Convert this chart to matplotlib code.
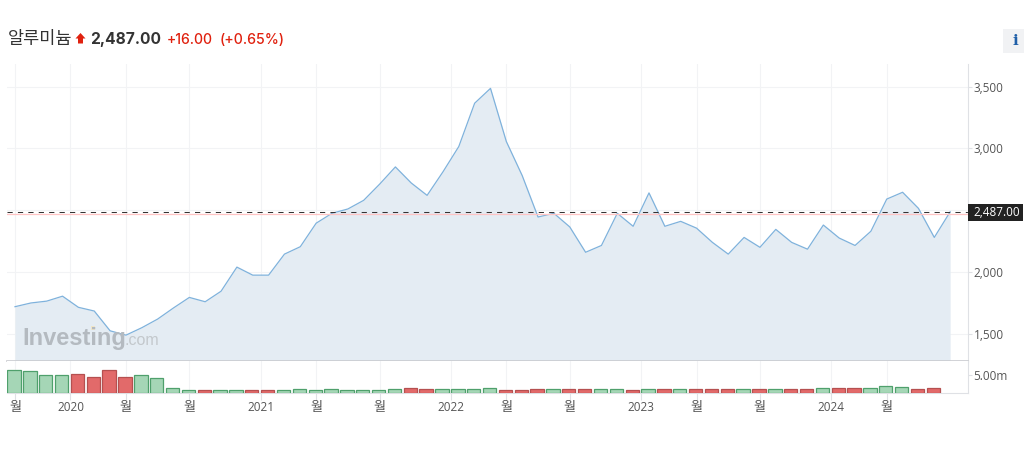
import matplotlib
matplotlib.use("Agg")
import matplotlib.pyplot as plt
from matplotlib.patches import Polygon, Rectangle

# 월별 종가
prices = [1720, 1750, 1765, 1805, 1715, 1685, 1525, 1490, 1550, 1620, 1710, 1795,
          1760, 1845, 2040, 1975, 1975, 2145, 2205, 2395, 2475, 2510, 2580, 2710,
          2850, 2720, 2620, 2810, 3015, 3365, 3485, 3055, 2780, 2445, 2475, 2365,
          2160, 2215, 2475, 2370, 2640, 2370, 2410, 2355, 2240, 2145, 2280, 2200,
          2345, 2240, 2185, 2380, 2275, 2215, 2330, 2590, 2645, 2515, 2280, 2487]

# 거래량 (백만)
volumes = [6.5, 6.2, 5.0, 5.0, 5.3, 4.7, 6.5, 4.7, 5.0, 4.4, 1.2, 0.6, 0.6, 0.6, 0.6,
           0.6, 0.6, 0.6, 0.9, 0.6, 0.9, 0.6, 0.6, 0.6, 0.9, 1.2, 0.9, 0.9, 0.9, 0.9,
           1.2, 0.6, 0.6, 0.9, 0.9, 0.9, 0.9, 0.9, 0.9, 0.6, 0.9, 0.9, 0.9, 0.9, 0.9,
           0.9, 0.9, 0.9, 0.9, 0.9, 0.9, 1.2, 1.2, 1.2, 1.2, 1.8, 1.5, 0.9, 1.2]
# r = 상승, g = 하락
vol_dirs = ["g", "g", "g", "g", "r", "r", "r", "r", "g", "g", "g", "g", "r", "g", "g",
            "r", "r", "g", "g", "g", "g", "g", "g", "g", "g", "r", "r", "g", "g", "g",
            "g", "r", "r", "r", "g", "r", "r", "g", "g", "r", "g", "r", "g", "r", "r",
            "r", "g", "r", "g", "r", "r", "g", "r", "r", "g", "g", "g", "r", "r"]

tick_pos = [0, 3.5, 7, 11, 15.5, 19, 23, 27.5, 31, 35, 39.5, 43, 47, 51.5, 55]
tick_labels = ["월", "2020", "월", "월", "2021", "월", "월", "2022", "월", "월",
               "2023", "월", "월", "2024", "월"]
price_ticks = [1500, 2000, 2500, 3000, 3500]
# 2,500 라벨은 현재가 박스에 가려져 있음
price_tick_labels = ["1,500", "2,000", "", "3,000", "3,500"]
last_price = 2487

W, H = 1024, 450
plt.rcParams["font.family"] = ["Open Sans", "Noto Sans CJK KR", "DejaVu Sans"]
fig = plt.figure(figsize=(W / 100, H / 100), dpi=100)


def px_axes(left, top, right, bottom):
    return fig.add_axes([left / W, 1 - bottom / H, (right - left) / W, (bottom - top) / H])


ax = px_axes(7, 64, 968, 360.5)
vax = px_axes(7, 360.5, 968, 392.5)

xs = list(range(len(prices)))
xlim = ((7 - 15) / 15.85, (968 - 15) / 15.85)
ax.set_xlim(xlim)
vax.set_xlim(xlim)
ax.set_ylim(1285, 3682)
vax.set_ylim(0, 9.4)

ax.fill_between(xs, prices, 1285, color="#e4ecf3", lw=0)
ax.plot(xs, prices, color="#7fb2dc", lw=0.9)

# 현재가 라인
ax.axhline(last_price - 19, color="#ffc4c4", lw=0.9)
ax.axhline(last_price, color="#333333", lw=0.75, dashes=(5, 5))

for a in (ax, vax):
    a.grid(True, axis="x", color="#f2f3f5", lw=0.8)
    a.set_axisbelow(True)
    a.set_xticks(tick_pos)
    for s in ("top", "left"):
        a.spines[s].set_visible(False)
ax.grid(True, axis="y", color="#f2f3f5", lw=0.8)

ax.set_yticks(price_ticks)
ax.set_yticklabels(price_tick_labels, fontsize=8.5, color="#555555")
ax.yaxis.tick_right()
ax.tick_params(axis="y", length=3, color="#dfe1e5", pad=1)
ax.tick_params(axis="x", length=0, labelbottom=False)
ax.spines["right"].set_color("#dfe1e5")
ax.spines["bottom"].set_color("#c9cbcf")
ax.spines["bottom"].set_linewidth(1.2)

bar_green = [i for i, d in enumerate(vol_dirs) if d == "g"]
bar_red = [i for i, d in enumerate(vol_dirs) if d == "r"]
vax.bar([i - 0.06 for i in bar_green], [volumes[i] for i in bar_green], width=0.84,
        color="#a5d6b6", edgecolor="#4fa06c", lw=0.9, zorder=3)
vax.bar([i - 0.06 for i in bar_red], [volumes[i] for i in bar_red], width=0.84,
        color="#e26a6a", edgecolor="#b55050", lw=0.9, zorder=3)

vax.set_xticklabels(tick_labels, fontsize=8.5, color="#555555")
for lab in vax.get_xticklabels():
    if lab.get_text() == "월":
        lab.set_fontsize(9.5)
vax.tick_params(axis="x", length=5, color="#dfe1e5", pad=1)
vax.set_yticks([5])
vax.set_yticklabels(["5.00m"], fontsize=8.5, color="#555555")
vax.yaxis.tick_right()
vax.tick_params(axis="y", length=3, color="#dfe1e5", pad=1)
vax.spines["right"].set_color("#dfe1e5")
vax.spines["bottom"].set_color("#dfe1e5")

# 현재가 라벨
fig.add_artist(Rectangle((968 / W, 1 - 221 / H), 55 / W, 17 / H, transform=fig.transFigure,
                         fc="#222222", ec="none"))
fig.text(973 / W, 1 - 212.5 / H, "2,487.00", fontsize=8.5, color="white", va="center")

# 워터마크
fig.text(22 / W, 1 - 345 / H, "Investing", fontsize=17, fontweight="bold",
         family="Liberation Sans", color="#b4bac0")
fig.text(125 / W, 1 - 345 / H, ".com", fontsize=11.5, family="Liberation Sans",
         color="#c3c8cc")
fig.add_artist(Rectangle((91 / W, 1 - 330 / H), 4 / W, 4 / H, transform=fig.transFigure,
                         fc="#f0e6c8", ec="none"))

# 헤더
fig.text(8 / W, 1 - 44 / H, "알루미늄", fontsize=12.6, color="#333333")
arrow = [(80.5, 33), (85.5, 38.5), (83, 38.5), (83, 43.5), (78, 43.5), (78, 38.5), (75.5, 38.5)]
fig.add_artist(Polygon([(x / W, 1 - y / H) for x, y in arrow], transform=fig.transFigure,
                       fc="#e0210f", ec="none"))
fig.text(90 / W, 1 - 44 / H, "2,487.00", fontsize=11.2, fontweight="bold", color="#333333",
         family="Inter")
fig.text(167 / W, 1 - 44 / H, "+16.00", fontsize=10.1, fontweight="medium", color="#e0210f",
         family="Inter")
fig.text(220 / W, 1 - 44 / H, "(+0.65%)", fontsize=10.2, fontweight="medium", color="#e0210f",
         family="Inter")

# 정보 아이콘
fig.add_artist(Rectangle((1003 / W, 1 - 53 / H), 21 / W, 24 / H, transform=fig.transFigure,
                         fc="#f1f2f4", ec="none"))
fig.text(1015 / W, 1 - 41 / H, "i", fontsize=11, fontweight="bold", family="DejaVu Serif",
         color="#1f5fa8", ha="center", va="center")

fig.savefig("out.png", dpi=100)
